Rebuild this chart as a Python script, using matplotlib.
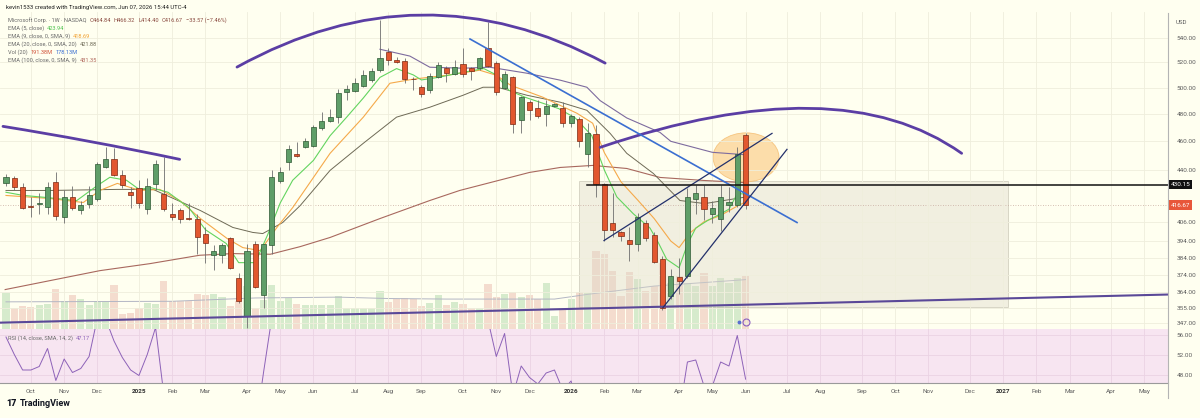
import numpy as np
import pandas as pd
import matplotlib
matplotlib.use("Agg")
from matplotlib import pyplot as plt
from matplotlib.path import Path
from matplotlib.patches import PathPatch, Ellipse, Rectangle
from matplotlib.lines import Line2D
from matplotlib.transforms import IdentityTransform
from matplotlib.ticker import NullLocator

FONT = ["Roboto", "DejaVu Sans"]
plt.rcParams["font.family"] = FONT

START = pd.Timestamp("2024-09-16")  # monday of the first weekly bar

# weekly OHLC
opens = [430.9, 434.3, 428.2, 416.0, 417.6, 415.7, 431.6, 409.3, 422.2, 413.7,
         417.6, 420.9, 441.7, 447.3, 436.3, 425.5, 427.5, 414.4, 430.2, 423.6,
         411.2, 413.7, 408.2, 408.0, 398.6, 385.8, 385.8, 395.6, 372.2, 350.8,
         392.5, 362.6, 391.3, 432.2, 445.2, 450.8, 455.7, 456.4, 469.4, 474.5,
         477.6, 496.5, 497.2, 501.1, 505.8, 513.7, 528.3, 521.8, 521.0, 506.9,
         500.3, 498.0, 508.2, 515.3, 510.5, 518.6, 515.3, 515.3, 531.7, 519.3,
         499.5, 508.2, 475.3, 488.8, 484.2, 479.8, 485.7, 484.2, 473.1, 476.1,
         450.8, 465.0, 430.2, 404.9, 399.3, 394.9, 392.5, 404.9, 398.0, 383.4,
         362.0, 372.8, 373.4, 420.9, 422.2, 411.2, 408.0, 417.0, 417.0, 464.84]
highs = [437.0, 435.6, 430.9, 421.6, 424.2, 431.6, 438.3, 426.2, 428.9, 419.6,
         428.9, 445.2, 455.7, 455.0, 439.7, 428.2, 432.9, 434.3, 446.6, 448.7,
         418.3, 415.0, 418.3, 411.2, 402.4, 391.3, 393.1, 396.2, 375.1, 392.5,
         394.3, 392.5, 439.7, 441.7, 457.1, 459.3, 462.1, 471.6, 481.2, 483.4,
         498.8, 501.9, 507.4, 513.7, 515.3, 555.4, 531.7, 524.2, 523.4, 508.2,
         501.9, 511.3, 520.1, 516.9, 521.8, 531.7, 516.1, 524.2, 553.7, 521.0,
         512.9, 509.0, 493.4, 490.3, 490.3, 490.3, 488.0, 488.8, 479.8, 477.6,
         473.1, 472.0, 431.0, 424.2, 400.5, 402.4, 411.8, 406.8, 399.3, 385.2,
         377.5, 384.0, 427.5, 429.6, 429.6, 419.6, 429.6, 428.2, 455.7, 466.32]
lows = [428.9, 426.2, 414.4, 408.7, 411.2, 411.2, 406.8, 405.5, 413.7, 410.6,
        415.0, 419.6, 441.0, 435.6, 427.5, 415.0, 415.0, 411.2, 426.2, 413.1,
        406.8, 404.9, 406.8, 386.4, 381.0, 376.9, 381.0, 377.5, 358.1, 344.4,
        366.5, 355.3, 386.4, 430.9, 439.7, 448.7, 455.0, 455.7, 467.9, 473.8,
        473.1, 490.3, 496.4, 500.3, 504.2, 512.1, 517.8, 519.3, 503.4, 498.0,
        492.6, 495.7, 507.4, 504.2, 509.7, 508.2, 505.8, 513.7, 516.1, 494.1,
        498.8, 465.7, 465.7, 475.3, 476.9, 470.9, 485.0, 470.1, 470.1, 455.7,
        441.7, 421.6, 394.3, 396.2, 394.3, 382.2, 388.2, 394.3, 381.0, 354.2,
        360.3, 363.1, 372.2, 411.2, 406.8, 404.9, 400.5, 412.4, 415.7, 414.40]
closes = [434.9, 428.2, 415.0, 415.6, 418.0, 428.2, 409.9, 422.2, 415.0, 417.0,
          422.9, 443.8, 447.3, 436.3, 429.6, 422.9, 418.3, 428.9, 443.8, 414.4,
          409.3, 408.0, 408.0, 396.2, 393.1, 388.2, 391.3, 378.1, 359.2, 388.2,
          367.1, 391.9, 434.9, 438.3, 454.3, 449.4, 460.0, 470.1, 474.5, 477.6,
          495.7, 498.8, 503.4, 509.7, 512.9, 523.4, 521.8, 520.1, 506.6, 506.6,
          494.9, 508.9, 517.8, 511.3, 516.1, 510.5, 512.9, 523.4, 516.9, 496.4,
          510.5, 472.3, 492.6, 482.7, 478.3, 485.7, 487.3, 473.1, 478.3, 460.0,
          465.7, 430.2, 401.1, 401.1, 396.8, 392.5, 408.7, 395.6, 381.6, 355.3,
          373.4, 370.5, 422.2, 424.2, 414.4, 415.0, 421.6, 418.9, 450.8, 416.67]
# volume in millions
volumes = [130, 76, 83, 79, 87, 90, 144, 101, 123, 108,
           87, 101, 101, 159, 54, 58, 76, 94, 90, 173,
           101, 101, 101, 126, 123, 126, 116, 83, 101, 155,
           76, 105, 159, 101, 112, 90, 87, 87, 87, 87,
           119, 76, 76, 76, 76, 137, 97, 108, 112, 108,
           83, 94, 123, 87, 97, 90, 76, 76, 162, 116,
           126, 134, 116, 123, 108, 166, 47, 76, 108, 134,
           130, 282, 271, 209, 119, 206, 181, 137, 155, 238,
           166, 191, 166, 155, 202, 155, 184, 166, 184, 191.38]
# RSI, values outside the pane are rough guesses (clipped anyway)
rsi = [55.6, 52.1, 49.0, 49.0, 49.7, 53.3, 46.9, 51.2, 48.5, 49.3,
       51.7, 59.4, 59.2, 54.8, 51.5, 49.0, 47.9, 52.1, 57.5, 44,
       42, 41, 40, 36, 35, 33, 35, 32, 28, 38,
       37, 48.6, 59.6, 65, 67, 67, 70, 72, 73, 74,
       76, 77, 78, 79, 76, 72, 70, 66, 64, 63,
       61, 64, 65, 63, 64, 62, 63, 62, 59, 51.7,
       56.3, 44, 49.8, 47.5, 46.2, 48.4, 49.0, 45, 46.8, 40,
       41, 32, 28, 28, 27, 31, 29, 28, 25, 30,
       29, 40, 50.6, 51.0, 45.8, 45.8, 50.6, 49.8, 55.9, 47.17]

# moving averages, sampled (bar index, value)
ema5_x = [0, 2, 5, 8.5, 11, 12.5, 14.5, 16, 17.5, 19.5, 22, 24, 26.5, 28, 30, 31.5, 33, 34.5,
          37, 39, 41, 43, 45, 47, 49, 50, 52, 55, 57.5, 59, 60.5, 62.5, 66.5, 68.5, 70.5, 72,
          73.5, 75.5, 77.5, 78.5, 79.5, 81, 82, 83, 84.5, 86, 87, 88, 89]
ema5_y = [425, 423, 421.5, 419.5, 429.5, 435, 433, 427, 428, 425, 415, 401, 392.5, 381, 381, 398, 418, 433,
          446.6, 464, 477.6, 492, 508, 515, 510, 506, 508, 512, 515, 510, 498, 492.5, 484, 477, 464, 440,
          422, 411, 402, 393, 383, 378, 392, 402, 407, 411, 414, 424, 423.94]
ema9_x = [0, 5.3, 9.3, 11.3, 13.4, 16.1, 18.5, 20.9, 23.4, 26.6, 28.5, 30.6, 32.6, 34.5, 39, 43,
          46.2, 49, 53, 57, 59, 60.7, 63, 64.6, 68.7, 70.6, 72, 74, 76, 78, 80, 81, 82.3, 84, 86, 88, 89]
ema9_y = [422.9, 420.9, 418.3, 426.2, 430.9, 426.2, 426.9, 419.6, 408, 395.6, 390, 388.2, 402.4, 415, 451.5, 477.6,
          503.4, 506.6, 509.7, 513.7, 509.7, 501.9, 496.4, 492.6, 480.5, 473.1, 452, 432, 420, 408, 394, 390, 399,
          406, 410, 416, 418.69]
ema20_x = [0, 5.3, 13.4, 17.7, 23.4, 27.3, 29.7, 30.9, 33.3, 35.4, 39, 43, 47, 51, 55, 57.4, 59.1,
           62.7, 66.7, 69.9, 72.7, 74.7, 77.9, 81.1, 84.1, 89]
ema20_y = [426.2, 426.2, 426.9, 426.9, 413.1, 402.4, 399.3, 398.6, 405.5, 416.3, 439.7, 458.6, 477.6, 485.0,
           494.1, 500.3, 500.3, 494.1, 488.8, 482.7, 465.7, 451.5, 437.6, 419.6, 417.6, 421.88]
smooth20_x = [45, 48.6, 51, 55, 58.2, 62.7, 66.7, 69.9, 71.5, 74.7, 78.7, 80, 85, 89]
smooth20_y = [530.7, 525.1, 516.1, 515.3, 516.1, 511.3, 505.8, 500.3, 490, 477, 466.4, 460, 452.2, 450.5]
ema100_x = [-0.1, 11.3, 17.3, 23.3, 27.3, 31.8, 35.4, 39, 45, 51, 54.6, 63, 66.7, 70.6, 74.7, 78.7, 83.9, 89]
ema100_y = [365.4, 376.3, 380.4, 385.4, 386.4, 386.0, 390.6, 396.2, 408.0, 419.6, 426.2, 438.3, 441.7, 443.1,
            441.0, 434.9, 432.9, 431.35]
volma_x = [0, 20, 30, 40, 46, 53, 66, 70, 78, 89]
volma_y = [98, 100, 112, 115, 110, 108, 108, 125, 155, 178.13]

# drawings (bar index, price)
left_arc = [(-0.36, 470.8), (10.1, 459.9), (20.9, 447.3)]
top_arc = [(27.8, 516.2), (50.0, 559.7), (72.1, 519.4)]
right_arc = [(71.5, 455.7), (96.75, 484.2), (115.0, 451.5)]
base_line = [(-0.72, 347.1), (139.83, 362.6)]
blue_line = [(55.84, 539.2), (95.19, 405.5)]
wedge_top = [(71.96, 394.3), (92.18, 465.7)]
wedge_bot = [(79.06, 355.3), (93.98, 454.3)]
level_price = 430.15
level_start = 69.9
box_x = (68.95, 120.6)
box_y = (355.9, 432.2)
ell_center = (89.05, 448.7)
ell_top, ell_bot = 465.7, 431.6

PRICE_TICKS = [540, 520, 500, 480, 460, 440, 406, 394, 384, 374, 364, 355, 347]
RSI_TICKS = [48, 52, 56]
MONTH_LABELS = ["Oct", "Nov", "Dec", "2025", "Feb", "Mar", "Apr", "May", "Jun", "Jul", "Aug", "Sep",
                "Oct", "Nov", "Dec", "2026", "Feb", "Mar", "Apr", "May", "Jun", "Jul", "Aug", "Sep",
                "Oct", "Nov", "Dec", "2027", "Feb", "Mar", "Apr", "May"]

BG = "#fffff0"
GRID = "#efeedc"
W, H = 1200, 418


def box(x0, y0, x1, y1):
    return [x0 / W, 1 - y1 / H, (x1 - x0) / W, (y1 - y0) / H]


fig = plt.figure(figsize=(12, 4.18), dpi=100, facecolor=BG)
ax_vol = fig.add_axes(box(0, 12, 1168, 329))
ax = fig.add_axes(box(0, 12, 1168, 329))
ax_rsi = fig.add_axes(box(0, 329, 1168, 383))

XLIM = (-0.72, 139.83)
idx = np.arange(len(closes))
up = np.array(closes) >= np.array(opens)

# month ticks at first monday of each month
month_starts = pd.date_range("2024-10-01", periods=len(MONTH_LABELS), freq="MS")
first_mon = [d + pd.Timedelta(days=(7 - d.weekday()) % 7) for d in month_starts]
month_pos = [(d - START).days / 7 for d in first_mon]

# volume pane (behind)
ax_vol.set_facecolor(BG)
ax_vol.bar(idx, volumes, width=0.86, color=np.where(up, "#cfe8c6", "#f3d6c8"), lw=0, alpha=0.85)
ax_vol.plot(volma_x, volma_y, color="#b3b6c4", lw=0.7)
ax_vol.set_xlim(*XLIM)
ax_vol.set_ylim(0, 1144)
ax_vol.axis("off")

# price pane
ax.patch.set_visible(False)
ax.set_yscale("log")
ax.set_xlim(*XLIM)
ax.set_ylim(343.7, 562.3)
ax.set_autoscale_on(False)
for s in ax.spines.values():
    s.set_visible(False)
ax.set_yticks(PRICE_TICKS)
ax.set_yticklabels([f"{v:.2f}" for v in PRICE_TICKS])
ax.yaxis.set_minor_locator(NullLocator())
ax.yaxis.tick_right()
ax.tick_params(axis="y", length=0, pad=6, labelsize=4.6, labelcolor="#5d5d5d")
ax.set_xticks(month_pos)
ax.tick_params(axis="x", length=0, labelbottom=False)
ax.grid(True, color=GRID, lw=0.6, zorder=0)

ax.add_patch(Rectangle((box_x[0], box_y[0]), box_x[1] - box_x[0], box_y[1] - box_y[0],
                       facecolor="#dcd8c8", alpha=0.4, edgecolor="#a8a291", lw=0.7, zorder=1))
ax.axhline(416.67, color="#c8aaa0", lw=0.6, ls=(0, (1, 2)), zorder=1)

# ellipse highlight
cx, cy = ax.transData.transform(ell_center)
ew = ax.transData.transform((ell_center[0] + 3.97, ell_center[1]))[0] - ax.transData.transform((ell_center[0] - 3.97, ell_center[1]))[0]
eh = ax.transData.transform((0, ell_top))[1] - ax.transData.transform((0, ell_bot))[1]
ax.add_patch(Ellipse((cx, cy), ew, eh, transform=IdentityTransform(), facecolor="#fcd293",
                     edgecolor="#f3b766", lw=0.6, alpha=0.75, zorder=1.5))

ax.plot(ema100_x, ema100_y, color="#a8685e", lw=0.8, zorder=2)
ax.plot(ema20_x, ema20_y, color="#6e6a56", lw=0.7, zorder=2)
ax.plot(smooth20_x, smooth20_y, color="#7d6b9e", lw=0.8, zorder=2)
ax.plot(ema9_x, ema9_y, color="#f5a94a", lw=0.8, zorder=2)
ax.plot(ema5_x, ema5_y, color="#63d45f", lw=0.8, zorder=2)

# candles
lo_body = np.minimum(opens, closes)
hi_body = np.maximum(opens, closes)
ax.vlines(idx, lows, highs, color="#6e6e6e", lw=0.6, zorder=3)
ax.bar(idx, np.maximum(hi_body - lo_body, 0.5), bottom=lo_body, width=0.62,
       color=np.where(up, "#5f9e68", "#e2572f"), edgecolor=np.where(up, "#2d5833", "#7c2811"),
       lw=0.5, zorder=3)


def arc(pts, **kw):
    d0, d1, d2 = ax.transData.transform(pts)
    ctrl = 2 * d1 - (d0 + d2) / 2
    path = Path([d0, ctrl, d2], [Path.MOVETO, Path.CURVE3, Path.CURVE3])
    ax.add_patch(PathPatch(path, transform=IdentityTransform(), fill=False, **kw))


arc_style = dict(edgecolor="#5b3ea4", lw=2.0, capstyle="round", zorder=4)
arc(left_arc, **arc_style)
arc(top_arc, **arc_style)
arc(right_arc, **arc_style)
ax.plot(*zip(*base_line), color="#5a4898", lw=1.5, zorder=4)
ax.plot(*zip(*blue_line), color="#3b6fd1", lw=1.2, zorder=4)
ax.plot(*zip(*wedge_top), color="#23306b", lw=0.9, zorder=4)
ax.plot(*zip(*wedge_bot), color="#23306b", lw=0.9, zorder=4)
ax.plot([level_start, XLIM[1]], [level_price, level_price], color="#111111", lw=1.1, zorder=4)
ax.plot([89], [347.6], marker="o", ms=5, mfc="none", mec="#8a5fc0", mew=0.8, zorder=5)
ax.plot([88.2], [347.2], marker="o", ms=1.8, color="#5a6fd0", zorder=5)

ytr = ax.get_yaxis_transform()
ax.text(1.002, level_price, "430.15", transform=ytr, fontsize=4.6, color="white", va="center", ha="left",
        clip_on=False, bbox=dict(boxstyle="square,pad=0.35", fc="#111111", ec="none"))
ax.text(1.002, 416.67, "416.67", transform=ytr, fontsize=4.6, color="white", va="center", ha="left",
        clip_on=False, bbox=dict(boxstyle="square,pad=0.35", fc="#e8573a", ec="none"))

# RSI pane
ax_rsi.set_facecolor("#f7e5f1")
ax_rsi.plot(idx, rsi, color="#8d62b8", lw=0.7)
ax_rsi.set_xlim(*XLIM)
ax_rsi.set_ylim(46.4, 57.2)
ax_rsi.set_yticks(RSI_TICKS)
ax_rsi.set_yticklabels([f"{v:.2f}" for v in RSI_TICKS])
ax_rsi.yaxis.tick_right()
ax_rsi.tick_params(axis="y", length=0, pad=6, labelsize=4.6, labelcolor="#5d5d5d")
ax_rsi.set_xticks(month_pos)
ax_rsi.set_xticklabels(MONTH_LABELS)
ax_rsi.tick_params(axis="x", length=0, pad=4, labelsize=4.6, labelcolor="#5d5d5d")
for lab in ax_rsi.get_xticklabels():
    if lab.get_text().isdigit():
        lab.set_fontweight("bold")
        lab.set_color("#333333")
ax_rsi.grid(True, color="#ead3e3", lw=0.6)
for k, s in ax_rsi.spines.items():
    s.set_visible(k == "bottom")
ax_rsi.spines["bottom"].set_color("#9a9a9a")
ax_rsi.spines["bottom"].set_linewidth(0.8)

fig.add_artist(Line2D([1168 / W, 1168 / W], [1 - 13 / H, 1 - 398 / H], color="#b4b4b4", lw=0.8))

# texts
fig.text(6 / W, 1 - 7 / H, "kevin1533 created with TradingView.com, Jun 07, 2026 15:44 UTC-4",
         fontsize=4.3, color="#222222", va="center")
fig.text(1176 / W, 1 - 22 / H, "USD", fontsize=4.4, color="#5d5d5d", va="center")

renderer = fig.canvas.get_renderer()


def text_run(x, y, parts, size=4.1):
    for s, c in parts:
        t = fig.text(x / W, 1 - y / H, s, fontsize=size, color=c, va="center", ha="left")
        x += t.get_window_extent(renderer=renderer).width + 3


GRAYTXT = "#6a6a6a"
text_run(8, 20, [("Microsoft Corp. · 1W · NASDAQ", GRAYTXT), ("O464.84", "#8a4a40"), ("H466.32", "#8a4a40"),
                 ("L414.40", "#8a4a40"), ("C416.67", "#8a4a40"), ("−33.57 (−7.46%)", "#8a4a40")])
text_run(8, 28, [("EMA (5, close)", GRAYTXT), ("423.94", "#4fc24f")])
text_run(8, 36, [("EMA (9, close, 0, SMA, 9)", GRAYTXT), ("418.69", "#f0a030")])
text_run(8, 44, [("EMA (20, close, 0, SMA, 20)", GRAYTXT), ("421.88", "#6e6a56")])
text_run(8, 52, [("Vol (20)", GRAYTXT), ("191.38M", "#d0533a"), ("178.13M", "#3b6fd1")])
text_run(8, 60, [("EMA (100, close, 0, SMA, 9)", GRAYTXT), ("431.35", "#b0665a")])
text_run(8, 338, [("RSI (14, close, SMA, 14, 2)", GRAYTXT), ("47.17", "#8d62b8")])

fig.text(6 / W, 1 - 404 / H, "17", fontsize=6.5, weight="heavy", color="#131722", va="center")
fig.text(20 / W, 1 - 404 / H, "TradingView", fontsize=6.5, weight="bold", color="#131722", va="center")

fig.savefig("out.png", dpi=100, facecolor=BG)
